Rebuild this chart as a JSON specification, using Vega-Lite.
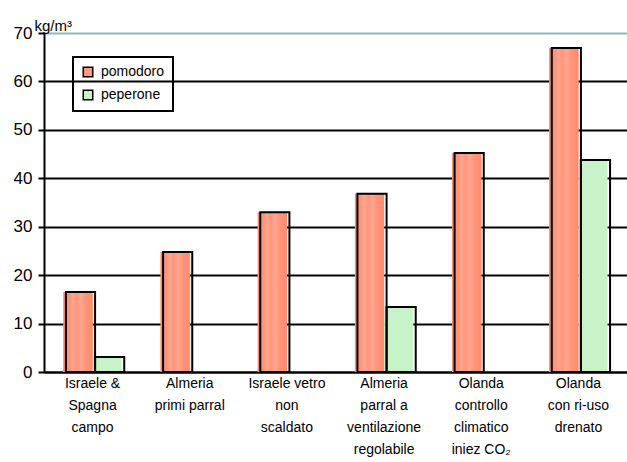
{
  "$schema": "https://vega.github.io/schema/vega-lite/v6.json",
  "width": 583,
  "height": 339,
  "padding": {"left": 44, "top": 33, "right": 0, "bottom": 90},
  "autosize": "none",
  "background": "white",
  "config": {
    "font": "Liberation Sans",
    "view": {"stroke": null},
    "axis": {"labelColor": "black", "labelFont": "Liberation Sans"}
  },
  "data": {
    "values": [
      {"cat": "Israele &|Spagna|campo", "serie": "pomodoro", "val": 16.5},
      {"cat": "Israele &|Spagna|campo", "serie": "peperone", "val": 3.1},
      {"cat": "Almeria|primi parral", "serie": "pomodoro", "val": 24.8},
      {"cat": "Israele vetro|non|scaldato", "serie": "pomodoro", "val": 33.0},
      {"cat": "Almeria|parral a|ventilazione|regolabile", "serie": "pomodoro", "val": 36.8},
      {"cat": "Almeria|parral a|ventilazione|regolabile", "serie": "peperone", "val": 13.4},
      {"cat": "Olanda|controllo|climatico|iniez CO₂", "serie": "pomodoro", "val": 45.2},
      {"cat": "Olanda|con ri-uso|drenato", "serie": "pomodoro", "val": 66.9},
      {"cat": "Olanda|con ri-uso|drenato", "serie": "peperone", "val": 43.8}
    ]
  },
  "resolve": {"scale": {"xOffset": "independent"}},
  "encoding": {
    "x": {
      "field": "cat",
      "type": "nominal",
      "sort": null,
      "scale": {"paddingInner": 0.4, "paddingOuter": 0.2},
      "axis": {
        "title": null,
        "labelAngle": 0,
        "labelExpr": "split(datum.label, '|')",
        "labelFontSize": 14,
        "labelLineHeight": 22,
        "labelBaseline": "top",
        "labelPadding": 4,
        "ticks": false,
        "domainColor": "black",
        "domainWidth": 2
      }
    },
    "y": {
      "field": "val",
      "type": "quantitative",
      "scale": {"domain": [0, 70], "nice": false},
      "axis": {
        "values": [0, 10, 20, 30, 40, 50, 60, 70],
        "title": "kg/m³",
        "titleAngle": 0,
        "titleAlign": "left",
        "titleBaseline": "bottom",
        "titleX": -10,
        "titleY": 0,
        "titleFontSize": 15,
        "titleFontWeight": "normal",
        "titleColor": "black",
        "labelFontSize": 17,
        "labelPadding": 6,
        "tickColor": "black",
        "tickWidth": 2,
        "tickSize": 6,
        "domainColor": "black",
        "domainWidth": 2,
        "grid": true,
        "gridWidth": 2,
        "gridColor": {"condition": {"test": "datum.value === 70", "value": "#8fb8b8"}, "value": "black"}
      }
    }
  },
  "layer": [
    {
      "mark": {"type": "bar"},
      "encoding": {
        "xOffset": {"field": "serie", "type": "nominal", "scale": {"domain": ["pomodoro", "peperone"]}},
        "color": {
          "field": "serie",
          "type": "nominal",
          "scale": {"domain": ["pomodoro", "peperone"], "range": ["#ff9a80", "#c8f2c8"]},
          "legend": {
            "title": null,
            "orient": "none",
            "legendX": 29,
            "legendY": 24,
            "strokeColor": "black",
            "padding": 8,
            "symbolType": "square",
            "symbolSize": 90,
            "symbolStrokeColor": "black",
            "symbolStrokeWidth": 1.5,
            "labelFontSize": 14,
            "labelColor": "black",
            "rowPadding": 7,
            "labelOffset": 6,
            "encode": {"legend": {"update": {"strokeWidth": {"value": 2}}}}
          }
        }
      }
    },
    {
      "transform": [{"filter": "datum.serie === 'pomodoro'"}],
      "mark": {
        "type": "bar",
        "color": {"gradient": "linear", "x1": 0, "x2": 1, "y1": 0, "y2": 0, "stops": [
          {"offset": 0, "color": "#ff8a6e"},
          {"offset": 0.2, "color": "#ff957b"},
          {"offset": 0.32, "color": "#ffa690"},
          {"offset": 0.45, "color": "#ff957b"},
          {"offset": 0.6, "color": "#ffa690"},
          {"offset": 0.75, "color": "#ff957b"},
          {"offset": 1, "color": "#ff8a6e"}
        ]}
      },
      "encoding": {
        "xOffset": {"field": "serie", "type": "nominal", "scale": {"domain": ["pomodoro", "peperone"]}}
      }
    },
    {
      "mark": {"type": "bar", "filled": false, "stroke": "black", "strokeWidth": 2},
      "encoding": {
        "xOffset": {"field": "serie", "type": "nominal", "scale": {"domain": ["pomodoro", "peperone"], "range": [2.5, 60.8]}}
      }
    }
  ]
}
